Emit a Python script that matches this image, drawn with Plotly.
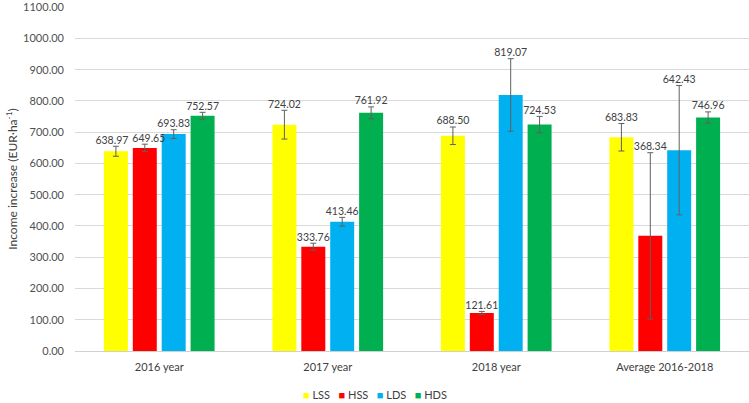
import plotly.graph_objects as go

categories = ["2016 year", "2017 year", "2018 year", "Average 2016-2018"]
series_names = ["LSS", "HSS", "LDS", "HDS"]
series_colors = ["#FFFF00", "#FF0000", "#00B0F0", "#00B050"]

lss = [638.97, 724.02, 688.50, 683.83]
hss = [649.65, 333.76, 121.61, 368.34]
lds = [693.83, 413.46, 819.07, 642.43]
hds = [752.57, 761.92, 724.53, 746.96]

lss_err = [16, 46, 28, 44]
hss_err = [12, 11, 5, 266]
lds_err = [14, 14, 116, 207]
hds_err = [11, 19, 26, 18]

values = [lss, hss, lds, hds]
errors = [lss_err, hss_err, lds_err, hds_err]

y_ticks = [i * 100 for i in range(12)]

FONT = "Lato"
NB = "\u00a0" * 3

fig = go.Figure()
for name, color, vals, errs in zip(series_names, series_colors, values, errors):
    fig.add_trace(go.Bar(
        x=categories, y=vals, name=name, offsetgroup=name,
        marker=dict(color=color, line=dict(width=0)),
        error_y=dict(type="data", array=errs, visible=True,
                     color="#606060", thickness=1, width=3),
        showlegend=False,
    ))

for si, (name, vals, errs) in enumerate(zip(series_names, values, errors)):
    labels = []
    for ci, v in enumerate(vals):
        t = f"{v:.2f}"
        # nudge the two crowded 2016 labels apart, as in the original
        if ci == 0 and si == 0:
            t = t + NB
        elif ci == 0 and si == 1:
            t = NB + t
        labels.append(t)
    fig.add_trace(go.Scatter(
        x=categories, y=[v + e for v, e in zip(vals, errs)],
        offsetgroup=name, mode="text",
        text=labels, textposition="top center",
        textfont=dict(family=FONT, size=10.5, color="#404040"),
        showlegend=False, hoverinfo="skip", cliponaxis=False,
    ))

# legend drawn as a single line of text with coloured squares
legend_text = "   ".join(
    f"<span style='color:{c}'>■</span> {n}" for n, c in zip(series_names, series_colors)
)
fig.add_annotation(
    text=legend_text, xref="paper", yref="paper",
    x=(375 - 75) / 674, y=-(394 - 351) / 344,
    xanchor="center", yanchor="middle", showarrow=False,
    font=dict(family=FONT, size=11, color="#404040"),
)

fig.update_layout(
    width=749, height=403,
    margin=dict(l=75, r=0, t=7, b=52, autoexpand=False),
    plot_bgcolor="white", paper_bgcolor="white",
    barmode="group", bargap=0.314, bargroupgap=0.17,
    scattermode="group", scattergap=0.314,
    font=dict(family=FONT, size=11, color="#404040"),
    showlegend=False,
    xaxis=dict(type="category", range=[-0.5, 3.5], showgrid=False,
               showline=True, linecolor="#D0D0D0", linewidth=1,
               ticks="", ticklabelstandoff=6, automargin=False,
               tickfont=dict(family=FONT, size=11, color="#404040")),
    yaxis=dict(range=[0, 1100.5], tickvals=y_ticks, tickformat=".2f",
               showgrid=True, gridcolor="#D9D9D9", gridwidth=1,
               zeroline=False, showline=False, ticks="",
               ticklabelstandoff=10, automargin=False,
               tickfont=dict(family=FONT, size=11, color="#505050"),
               title=dict(text="Income increase (EUR·ha<sup>-1</sup>)",
                          font=dict(family=FONT, size=12, color="#404040"),
                          standoff=2)),
)

fig.write_html("out.html", config={"displayModeBar": False},
               post_script="document.body.style.margin='0';")
